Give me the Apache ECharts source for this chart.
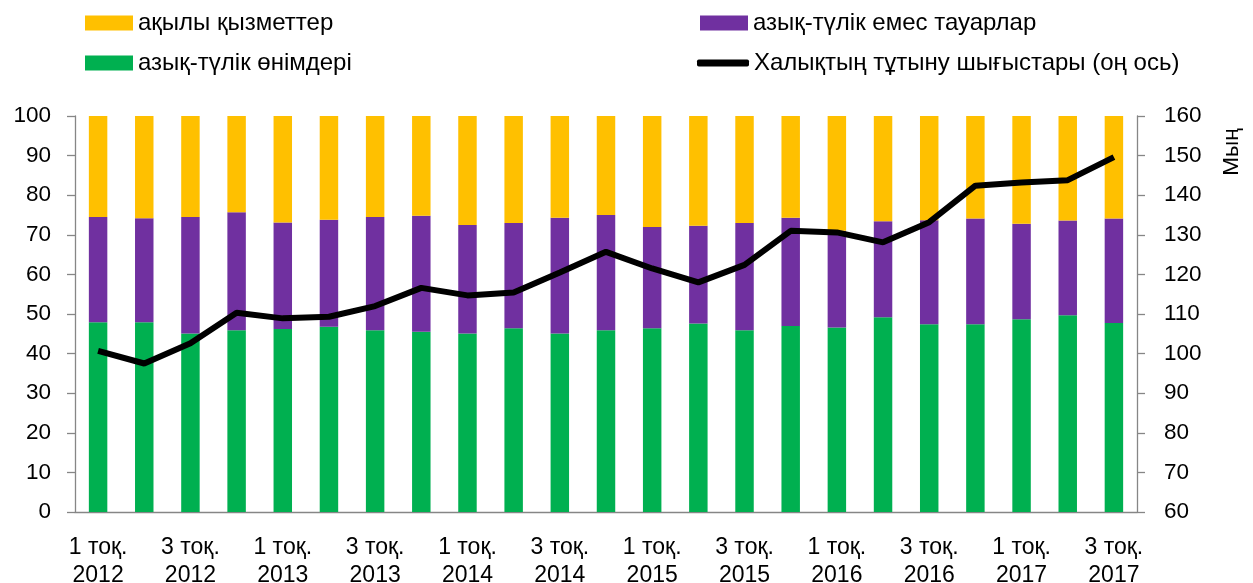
<!DOCTYPE html>
<html lang="kk">

<head>
    <meta charset="UTF-8">
    <title>Тұтыну шығыстары</title>
    <style>
        html, body { margin: 0; padding: 0; background: #fff; }
        #chart { width: 1253px; height: 583px; }
    </style>
</head>

<body>
    <div id="chart"></div>

    <script src="https://cdn.jsdelivr.net/npm/echarts@6/dist/echarts.min.js"></script>
    <script>
        const categories = [
            '1 тоқ.\n2012', '2 тоқ.\n2012', '3 тоқ.\n2012', '4 тоқ.\n2012',
            '1 тоқ.\n2013', '2 тоқ.\n2013', '3 тоқ.\n2013', '4 тоқ.\n2013',
            '1 тоқ.\n2014', '2 тоқ.\n2014', '3 тоқ.\n2014', '4 тоқ.\n2014',
            '1 тоқ.\n2015', '2 тоқ.\n2015', '3 тоқ.\n2015', '4 тоқ.\n2015',
            '1 тоқ.\n2016', '2 тоқ.\n2016', '3 тоқ.\n2016', '4 тоқ.\n2016',
            '1 тоқ.\n2017', '2 тоқ.\n2017', '3 тоқ.\n2017'
        ]

        // үлес, %
        const food = [47.9, 47.9, 45.1, 45.9, 46.2, 46.8, 45.9, 45.5, 45.1, 46.4, 45.1, 45.9,
            46.4, 47.6, 45.9, 47.0, 46.6, 49.2, 47.4, 47.4, 48.7, 49.7, 47.7]
        const nonFood = [26.6, 26.3, 29.4, 29.8, 26.9, 27.0, 28.6, 29.3, 27.4, 26.6, 29.2, 29.1,
            25.6, 24.7, 27.1, 27.3, 24.4, 24.2, 26.3, 26.7, 24.1, 23.9, 26.4]
        const services = [25.5, 25.8, 25.5, 24.3, 26.9, 26.2, 25.5, 25.2, 27.5, 27.0, 25.7, 25.0,
            28.0, 27.7, 27.0, 25.7, 29.0, 26.6, 26.3, 25.9, 27.2, 26.4, 25.9]

        // мың теңге (оң ось)
        const spending = [100.7, 97.5, 102.6, 110.3, 108.9, 109.3, 112.0, 116.6, 114.7, 115.4, 120.5, 125.7,
            121.5, 118.0, 122.4, 131.0, 130.6, 128.1, 133.2, 142.4, 143.2, 143.8, 149.6]

        const names = {
            services: 'ақылы қызметтер',
            nonFood: 'азық-түлік емес тауарлар',
            food: 'азық-түлік өнімдері',
            spending: 'Халықтың тұтыну шығыстары (оң ось)'
        }

        const font = 'Liberation Sans'
        const axisGray = '#868686'

        function legendAt(name, left, top, isLine) {
            return {
                data: [{ name: name, icon: isLine ? 'roundRect' : 'rect' }],
                left: left,
                top: top,
                itemWidth: isLine ? 52 : 48,
                itemHeight: isLine ? 7 : 15,
                itemGap: 6,
                textStyle: { fontFamily: font, fontSize: 24, color: '#000' }
            }
        }

        const myChart = echarts.init(document.querySelector('#chart'))
        const option = {
            animation: false,
            textStyle: { fontFamily: font },
            legend: [
                legendAt(names.services, 80, 6),
                legendAt(names.nonFood, 695, 6),
                legendAt(names.food, 80, 46),
                legendAt(names.spending, 692, 46, true)
            ],
            grid: { left: 75, right: 116, top: 116, bottom: 71, outerBoundsMode: 'none' },
            xAxis: {
                type: 'category',
                data: categories,
                axisLine: { lineStyle: { color: axisGray, width: 1.3 } },
                axisTick: { interval: 0, length: 6, lineStyle: { color: axisGray, width: 1.3 } },
                axisLabel: {
                    interval: 1,
                    margin: 22,
                    fontSize: 23,
                    lineHeight: 28,
                    color: '#000'
                }
            },
            yAxis: [{
                type: 'value',
                min: 0,
                max: 100,
                interval: 10,
                splitLine: { show: false },
                axisLine: { show: true, lineStyle: { color: axisGray, width: 1.3 } },
                axisTick: { show: true, length: 8, lineStyle: { color: axisGray, width: 1.3 } },
                axisLabel: { margin: 24, fontSize: 22.5, color: '#000' }
            }, {
                type: 'value',
                min: 60,
                max: 160,
                interval: 10,
                position: 'right',
                splitLine: { show: false },
                axisLine: { show: true, lineStyle: { color: axisGray, width: 1.3 } },
                axisTick: { show: true, length: 8, lineStyle: { color: axisGray, width: 1.3 } },
                axisLabel: { margin: 27, fontSize: 22.5, color: '#000', align: 'left' }
            }],
            graphic: [{
                type: 'text',
                x: 1232,
                y: 152,
                rotation: Math.PI / 2,
                style: {
                    text: 'Мың',
                    fontFamily: font,
                    fontSize: 22.5,
                    fill: '#000',
                    align: 'center',
                    verticalAlign: 'middle'
                }
            }],
            series: [{
                name: names.food,
                type: 'bar',
                stack: 'share',
                barCategoryGap: '60%',
                itemStyle: { color: '#00B050' },
                data: food
            }, {
                name: names.nonFood,
                type: 'bar',
                stack: 'share',
                itemStyle: { color: '#7030A0' },
                data: nonFood
            }, {
                name: names.services,
                type: 'bar',
                stack: 'share',
                itemStyle: { color: '#FFC000' },
                data: services
            }, {
                name: names.spending,
                type: 'line',
                yAxisIndex: 1,
                symbol: 'none',
                itemStyle: { color: '#000' },
                lineStyle: { color: '#000', width: 6 },
                z: 5,
                data: spending
            }]
        }

        myChart.setOption(option)
    </script>
</body>

</html>
